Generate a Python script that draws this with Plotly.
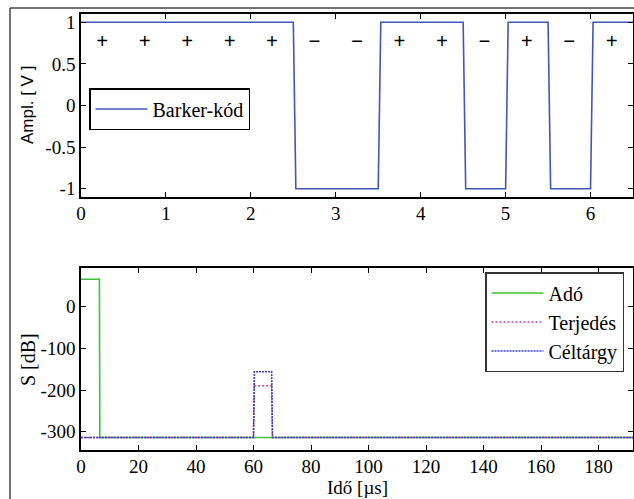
import plotly.graph_objects as go

# ---- data ----
chip_values = [1, 1, 1, 1, 1, -1, -1, 1, 1, -1, 1, -1, 1]   # Barker-13
chip_width = 0.5
chip_signs = ["+", "+", "+", "+", "+", "−", "−", "+", "+", "−", "+", "−", "+"]

ado_t = [0, 6.4, 6.55, 192]
ado_s = [66, 66, -314, -314]
terj_t = [0, 60.0, 60.3, 66.3, 66.6, 192]
terj_s = [-314, -314, -190, -190, -314, -314]
cel_t = [0, 60.0, 60.3, 66.3, 66.6, 192]
cel_s = [-314, -314, -156, -156, -314, -314]

top_xticks = [0, 1, 2, 3, 4, 5, 6]
top_yticks = [-1, -0.5, 0, 0.5, 1]
top_yticklabels = ["-1", "-0.5", "0", "0.5", "1"]
bot_xticks = [0, 20, 40, 60, 80, 100, 120, 140, 160, 180]
bot_yticks = [-300, -200, -100, 0]
bot_yticklabels = ["-300", "-200", "-100", "0"]

# build step waveform from chips (small transition)
bx, by = [], []
for i, v in enumerate(chip_values):
    start = i * chip_width
    bx += [start + (0.03 if i > 0 else 0), start + chip_width]
    by += [v, v]
centers = [i * chip_width + chip_width / 2 for i in range(len(chip_values))]

W, H = 634, 499
SERIF = "Liberation Serif, Times New Roman, serif"
SANS = "Liberation Sans, Arial, sans-serif"

fig = go.Figure()
fig.add_trace(go.Scatter(x=bx, y=by, mode="lines", name="Barker-kód",
                         line=dict(color="#4355b8", width=1.6),
                         xaxis="x", yaxis="y", legend="legend"))
fig.add_trace(go.Scatter(x=centers, y=[0.75] * len(centers), mode="text",
                         text=chip_signs,
                         textfont=dict(family=SERIF, size=21, color="black", weight="bold"),
                         showlegend=False, xaxis="x", yaxis="y", hoverinfo="skip"))

fig.add_trace(go.Scatter(x=ado_t, y=ado_s, mode="lines", name="Adó",
                         line=dict(color="#3cc23c", width=1.6),
                         xaxis="x2", yaxis="y2", legend="legend2"))
fig.add_trace(go.Scatter(x=terj_t, y=terj_s, mode="lines", name="Terjedés",
                         line=dict(color="#c8449a", width=1.5, dash="2px,2px"),
                         xaxis="x2", yaxis="y2", legend="legend2"))
fig.add_trace(go.Scatter(x=cel_t, y=cel_s, mode="lines", name="Céltárgy",
                         line=dict(color="#3a3fc0", width=1.6, dash="2px,1px"),
                         xaxis="x2", yaxis="y2", legend="legend2"))

xd = [81 / W, 633 / W]
axis_common = dict(showline=True, linecolor="black", linewidth=1.5, mirror="ticks",
                   ticks="inside", ticklen=5, tickwidth=1.3, tickcolor="black",
                   showgrid=False, zeroline=False, automargin=False,
                   tickfont=dict(family=SERIF, size=19, color="black"))

fig.update_layout(
    template="none",
    width=W, height=H,
    margin=dict(l=0, r=0, t=0, b=0, autoexpand=False),
    paper_bgcolor="white", plot_bgcolor="white",
    xaxis=dict(domain=xd, range=[0, 6.5], tickvals=top_xticks, anchor="y",
               ticklabelstandoff=-2, **axis_common),
    yaxis=dict(domain=[1 - 197 / H, 1 - 14 / H], range=[-1.1, 1.1], tickvals=top_yticks,
               ticktext=top_yticklabels, anchor="x", **axis_common),
    xaxis2=dict(domain=xd, range=[0, 192], tickvals=bot_xticks, anchor="y2",
                ticklabelstandoff=-2, **axis_common),
    yaxis2=dict(domain=[1 - 450 / H, 1 - 268 / H], range=[-344, 93], tickvals=bot_yticks,
                ticktext=bot_yticklabels, anchor="x2", **axis_common),
    legend=dict(x=89 / W, y=1 - 88 / H, xanchor="left", yanchor="top", itemwidth=52,
                bgcolor="white", bordercolor="black", borderwidth=1.5,
                font=dict(family=SERIF, size=20, color="black"), tracegroupgap=0),
    legend2=dict(x=624 / W, y=1 - 272 / H, xanchor="right", yanchor="top", itemwidth=52,
                 bgcolor="white", bordercolor="#333", borderwidth=1.5,
                 font=dict(family=SERIF, size=20, color="black"), tracegroupgap=0),
    showlegend=True,
)

# axis titles as annotations
fig.add_annotation(x=27 / W, y=1 - 105 / H, xref="paper", yref="paper", text="Ampl. [ V ]",
                   xanchor="center", yanchor="middle",
                   textangle=-90, showarrow=False, font=dict(family=SANS, size=17, color="black"))
fig.add_annotation(x=28 / W, y=1 - 360 / H, xref="paper", yref="paper", text="S [dB]",
                   xanchor="center", yanchor="middle",
                   textangle=-90, showarrow=False, font=dict(family=SERIF, size=20, color="black"))
fig.add_annotation(x=357 / W, y=1 - 487 / H, xref="paper", yref="paper", text="Idő [µs]",
                   xanchor="center", yanchor="middle",
                   showarrow=False, font=dict(family=SERIF, size=19, color="black"))

# outer frame (cut off at right/bottom)
fig.add_shape(type="line", xref="paper", yref="paper", x0=10 / W, x1=1.01, y0=1 - 8 / H, y1=1 - 8 / H,
              line=dict(color="#444", width=1.5))
fig.add_shape(type="line", xref="paper", yref="paper", x0=10 / W, x1=10 / W, y0=-0.01, y1=1 - 8 / H,
              line=dict(color="#444", width=1.5))

fig.write_html("out.html", config={"displayModeBar": False},
               post_script="document.body.style.margin='0px';")
